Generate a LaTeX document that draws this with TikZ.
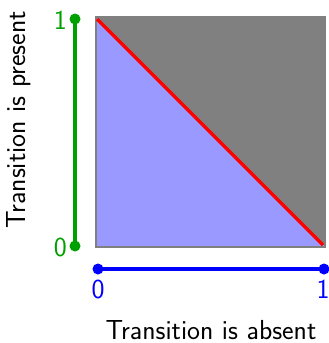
\documentclass[tikz,border=0pt]{standalone}
\definecolor{fillblue}{RGB}{153,153,255}
\definecolor{fillgray}{RGB}{128,128,128}
\definecolor{axgreen}{RGB}{0,160,0}
\begin{document}
\begin{tikzpicture}[x=1pt,y=-1pt,
  lbl/.style={font=\sffamily\fontsize{27.5}{32}\selectfont, inner sep=0pt},
  dotg/.style={circle, fill=axgreen, inner sep=0pt, minimum size=11pt},
  dotb/.style={circle, fill=blue, inner sep=0pt, minimum size=11pt}]
\useasboundingbox (0,0) rectangle (329,343);
% square
\coordinate (tl) at (96,17);
\coordinate (tr) at (325,17);
\coordinate (bl) at (96,247);
\coordinate (br) at (325,247);
\fill[fillgray] (tl) -- (tr) -- (br) -- cycle;
\fill[fillblue] (tl) -- (bl) -- (br) -- cycle;
\draw[gray, line width=1.2pt] (tl) rectangle (br);
\draw[red, line width=3.5pt] (97,19) -- (323,245);
% green axis
\node[dotg] (g1) at (75,19) {};
\node[dotg] (g0) at (75,246) {};
\draw[axgreen, line width=3.8pt] (g1.center) -- (g0.center);
\node[lbl, text=axgreen, anchor=east] (l1) at (67,20) {1};
\node[lbl, text=axgreen, anchor=east] (l0) at (67,247) {0};
% blue axis
\node[dotb] (b0) at (98,269) {};
\node[dotb] (b1) at (324,269) {};
\draw[blue, line width=3.8pt] (b0.center) -- (b1.center);
\node[lbl, text=blue] (m0) at (98,289) {0};
\node[lbl, text=blue] (m1) at (323,289) {1};
% axis titles
\node[lbl, anchor=base] (xt) at (211,339) {Transition is absent};
\node[lbl, anchor=base, rotate=90] (yt) at (25,120) {Transition is present};
\end{tikzpicture}
\end{document}
